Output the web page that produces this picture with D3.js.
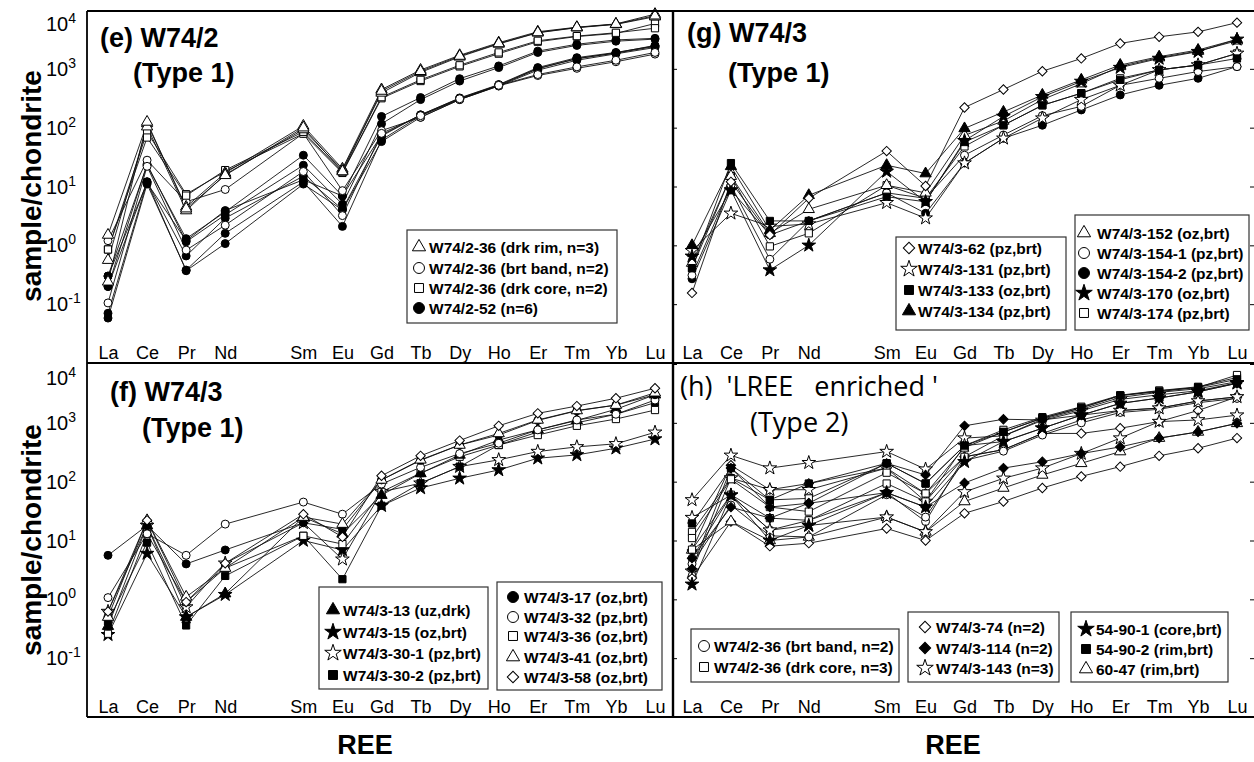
<!DOCTYPE html>
<html lang="en">
<head>
<meta charset="UTF-8">
<title>REE patterns</title>
<script src="https://d3js.org/d3.v7.min.js"></script>
<style>
  body { margin: 0; background: #fff; }
  text { font-family: "Liberation Sans", Arial, sans-serif; fill: #000; }
</style>
</head>
<body>
<svg id="chart" width="1254" height="762"></svg>
<script>
// REE order, Pm kept as an empty slot on the x axis
const elements = ["La","Ce","Pr","Nd","Sm","Eu","Gd","Tb","Dy","Ho","Er","Tm","Yb","Lu"];
const slots = ["La","Ce","Pr","Nd","Pm","Sm","Eu","Gd","Tb","Dy","Ho","Er","Tm","Yb","Lu"];
const decades = [1e4, 1e3, 1e2, 1e1, 1, 0.1];

// (e) W74/2
const eDrkRim = [
  [1.5, 118, 4.5, 17, 107, 20, 445, 955, 1700, 2780, 4270, 5100, 5800, 8500],
  [0.56, 104, 3.9, 16, 93, 19, 390, 870, 1600, 2650, 4100, 5000, 5700, 7700],
  [0.24, 125, 4.2, 15.5, 100, 18, 420, 910, 1650, 2700, 4150, 5050, 5750, 8000]
];
const eDrkCore = [
  [0.85, 85, 7.4, 18, 79, 17, 316, 620, 1100, 1810, 2890, 3540, 4000, 5900],
  [0.85, 68, 7.0, 19, 85, 17.5, 330, 650, 1150, 1900, 3000, 3600, 4100, 4900]
];
const eBrtBand = [
  [1.2, 28, 5.5, 8.9, 80, 8.5, 89, 150, 300, 515, 770, 1020, 1320, 1780],
  [0.105, 22, 0.83, 2.2, 18, 3.2, 80, 160, 310, 525, 800, 1080, 1400, 1900]
];
const e52 = [
  [0.30, 23, 1.3, 3.7, 34, 6.9, 155, 325, 680, 1120, 2000, 2620, 3100, 3300],
  [0.20, 24, 1.15, 3.3, 23, 5.0, 116, 300, 620, 1050, 1900, 2500, 2950, 3200],
  [0.07, 12, 0.66, 2.9, 15, 4.1, 72, 165, 320, 540, 1050, 1550, 1900, 2450],
  [0.058, 11, 0.38, 1.6, 12, 2.1, 62, 160, 305, 520, 1000, 1500, 1850, 2400],
  [0.20, 12, 0.37, 1.07, 11, 4.0, 58, 150, 300, 510, 950, 1400, 1800, 2300],
  [0.30, 11.5, 1.2, 3.9, 13, 6.9, 75, 165, 315, 530, 1020, 1480, 1870, 2500]
];

// (g) W74/3
const g62 = [0.155, 12, 1.5, 6.3, 40, 10.2, 220, 445, 910, 1500, 2700, 3500, 4250, 6100];
const g131 = [0.81, 3.5, 2.1, 2.3, 5.3, 2.9, 25, 66, 145, 300, 525, 960, 1160, 1830];
const g133 = [0.41, 25, 2.6, 2.6, 6.7, 5.5, 57, 110, 240, 385, 650, 960, 1160, 1500];
const g134 = [1.0, 22, 1.8, 7.1, 23, 16.6, 97, 185, 360, 650, 1160, 1610, 2090, 3170];
const g152 = [0.5, 15, 1.6, 4.1, 10.5, 7.8, 74, 130, 300, 560, 1100, 1550, 2000, 3000];
const g154a = [0.31, 10.5, 0.58, 2.6, 7.8, 6.3, 34, 75, 160, 230, 525, 690, 900, 1090];
const g154b = [0.27, 8.7, 1.5, 2.6, 7.8, 3.5, 25, 66, 110, 200, 360, 525, 690, 1090];
const g170 = [0.65, 8.7, 0.38, 1.0, 18, 5.5, 60, 155, 335, 610, 1050, 1500, 1960, 3170];
const g174 = [0.41, 15, 0.96, 1.6, 10.5, 6.3, 48, 110, 240, 385, 690, 960, 1160, 1830];

// (f) W74/3
const f13 = [0.35, 18, 0.5, 1.25, 25, 13, 59, 138, 285, 510, 760, 1100, 1700, 3000];
const f15 = [0.25, 6.0, 0.5, 1.2, 10, 6.9, 39, 78, 114, 158, 250, 285, 370, 530];
const f30a = [0.62, 18, 0.74, 4.1, 20, 4.8, 67, 94, 180, 235, 325, 390, 440, 690];
const f30b = [0.42, 9.2, 0.36, 2.5, 12, 2.2, 39, 94, 180, 420, 700, 1000, 1400, 2200];
const f17 = [5.6, 18, 4.0, 6.9, 20, 15.5, 107, 230, 420, 620, 1100, 1600, 2000, 3000];
const f32 = [1.07, 13, 5.6, 19, 45, 28, 91, 175, 300, 450, 760, 1120, 1400, 2440];
const f36 = [0.26, 13, 0.9, 3.4, 12, 8.7, 67, 140, 265, 420, 620, 890, 1160, 1650];
const f41 = [0.5, 22, 1.1, 3.4, 25, 19, 107, 235, 420, 660, 1120, 1620, 2000, 3240];
const f58 = [0.62, 22, 0.9, 4.1, 28, 11.5, 126, 275, 500, 890, 1450, 1930, 2620, 3870];

// (h) LREE enriched
const hBrtBand = [
  [5, 59, 15, 22, 65, 21, 265, 350, 660, 1120, 1620, 1780, 2350, 2760],
  [4, 40, 12, 11.5, 60, 25, 230, 330, 620, 1000, 1500, 1700, 2200, 2600]
];
const hDrkCore = [
  [14, 115, 49, 52, 205, 93, 410, 760, 1250, 1880, 2950, 3540, 4100, 5900],
  [11, 110, 37, 31, 142, 63, 380, 700, 1200, 1800, 2900, 3500, 4000, 6500],
  [7, 60, 24, 22, 93, 46, 265, 600, 1150, 1700, 2700, 3300, 3800, 5000]
];
const h74 = [
  [2.3, 21, 8, 9, 16, 10, 29, 46, 78, 123, 180, 275, 370, 550],
  [6.9, 190, 73, 93, 170, 63, 265, 350, 660, 660, 810, 1050, 1620, 2760]
];
const h114 = [
  [3.3, 170, 37, 43, 205, 130, 890, 1150, 1120, 1350, 2140, 2640, 3370, 4700],
  [5, 37, 24, 43, 65, 37, 95, 170, 218, 300, 390, 550, 700, 980]
];
const h143 = [
  [49, 280, 170, 210, 325, 163, 550, 600, 1100, 1600, 2500, 3000, 3500, 4800],
  [24.5, 59, 15, 18, 25, 14, 67, 114, 170, 300, 550, 1050, 1120, 1350],
  [3, 115, 73, 73, 170, 46, 410, 480, 810, 1350, 1620, 1780, 2350, 2760]
];
const h5490a = [1.8, 59, 10, 18, 65, 37, 218, 480, 810, 1350, 2140, 2640, 3370, 4700];
const h5490b = [19.5, 170, 49, 93, 205, 93, 410, 700, 1200, 1800, 2900, 3400, 4000, 5500];
const h6047 = [6.9, 21, 10, 11.5, 25, 14, 46, 78, 130, 205, 325, 550, 700, 980];

const svg = d3.select("#chart");
svg.append("rect").attr("width", 1254).attr("height", 762).attr("fill", "#fff");

function symPath(type, size) {
  const t = {circle: d3.symbolCircle, square: d3.symbolSquare, triangle: d3.symbolTriangle,
             star: d3.symbolStar, diamond: d3.symbolSquare}[type];
  return d3.symbol().type(t).size(size)();
}
const plotSize = {circle: 50, square: 52, triangle: 55, star: 58, diamond: 44};
const legSize = {circle: 95, square: 80, triangle: 75, star: 85, diamond: 65};

function marker(sel, type, filled, size, cx, cy) {
  sel.append("path")
    .attr("transform", "translate(" + cx + "," + cy + ")" + (type == "diamond" ? " rotate(45)" : ""))
    .attr("d", symPath(type, size))
    .attr("fill", filled ? "#000" : "#fff")
    .attr("stroke", "#000")
    .attr("stroke-width", 1);
}

function group(list, type, filled) {
  return list.map(v => ({vals: v, type: type, filled: filled}));
}

function drawPanel(p) {
  const x = d3.scalePoint().domain(slots).range(p.xr);
  const y = d3.scaleLog().domain([1e-2, 1e4]).range([p.y1, p.y0]);
  const g = svg.append("g");

  // element labels along the bottom, inside the frame
  const ax = g.append("g").attr("transform", "translate(0," + (p.y1 - 4) + ")")
    .call(d3.axisBottom(x).tickValues(elements).tickSize(0).tickPadding(0));
  ax.select(".domain").remove();
  ax.attr("font-family", null).attr("font-size", null);
  ax.selectAll("text").attr("y", 0).attr("dy", 0).attr("fill", null).style("font-size", "18px");

  // left labels 10^n for the left column
  if (p.left) {
    decades.forEach(d => {
      const e = Math.round(Math.log10(d));
      const t = g.append("text").attr("x", 46)
        .attr("y", y(d) + 7 + (e == 4 ? 14 : 0)).style("font-size", "20px");
      t.append("tspan").text("10");
      t.append("tspan").attr("dy", -8).style("font-size", "14px").text(e);
    });
  } else {
    g.append("g").attr("transform", "translate(" + p.x0 + ",0)")
      .call(d3.axisRight(y).tickValues(decades).tickSize(4).tickFormat(""))
      .call(a => a.select(".domain").remove());
    g.append("g").attr("transform", "translate(" + p.x1 + ",0)")
      .call(d3.axisLeft(y).tickValues(decades).tickSize(4).tickFormat(""))
      .call(a => a.select(".domain").remove());
  }

  const line = d3.line().x((v, i) => x(elements[i])).y(v => y(v));
  p.series.forEach(s => {
    g.append("path").attr("d", line(s.vals)).attr("fill", "none")
      .attr("stroke", "#111").attr("stroke-width", 0.9);
  });
  p.series.forEach(s => {
    s.vals.forEach((v, i) => marker(g, s.type, s.filled, plotSize[s.type], x(elements[i]), y(v)));
  });

  // titles
  p.titles.forEach(t => {
    g.append("text").attr("x", t[1]).attr("y", t[2])
      .style("font-size", "27px")
      .style("font-weight", p.titleFont ? "normal" : "bold")
      .style("font-family", p.titleFont || null)
      .style("white-space", "pre")
      .text(t[0]);
  });

  // legends
  p.legends.forEach(L => {
    g.append("rect").attr("x", L.box[0]).attr("y", L.box[1])
      .attr("width", L.box[2] - L.box[0]).attr("height", L.box[3] - L.box[1])
      .attr("fill", "#fff").attr("stroke", "#333").attr("stroke-width", 1.2);
    L.items.forEach((it, k) => {
      const yy = L.rows[k];
      marker(g, it[0], it[1], legSize[it[0]], L.sx, yy);
      g.append("text").attr("x", L.tx).attr("y", yy + 5.5)
        .style("font-size", "15.5px").style("font-weight", "bold").text(it[2]);
    });
  });
}

const panels = [
  {x0: 87, x1: 673, xr: [108, 655], y0: 10, y1: 363, left: true,
   series: [].concat(group(e52, "circle", true), group(eBrtBand, "circle", false),
                     group(eDrkCore, "square", false), group(eDrkRim, "triangle", false)),
   titles: [["(e) W74/2", 100, 47], ["(Type 1)", 133, 82]],
   legends: [{box: [407, 230, 617, 323], sx: 419, tx: 429, rows: [247, 268, 288, 308],
     items: [["triangle", false, "W74/2-36 (drk rim, n=3)"], ["circle", false, "W74/2-36 (brt band, n=2)"],
             ["square", false, "W74/2-36 (drk core, n=2)"], ["circle", true, "W74/2-52 (n=6)"]]}]},
  {x0: 673, x1: 1254, xr: [692, 1237], y0: 10, y1: 363, left: false,
   series: [].concat(group([g154b], "circle", true), group([g154a], "circle", false),
                     group([g174], "square", false), group([g131], "star", false),
                     group([g152], "triangle", false), group([g133], "square", true),
                     group([g170], "star", true), group([g134], "triangle", true),
                     group([g62], "diamond", false)),
   titles: [["(g) W74/3", 687, 42], ["(Type 1)", 728, 82]],
   legends: [
     {box: [896, 237, 1066, 330], sx: 909, tx: 918, rows: [248, 269, 290, 311],
      items: [["diamond", false, "W74/3-62 (pz,brt)"], ["star", false, "W74/3-131 (pz,brt)"],
              ["square", true, "W74/3-133 (oz,brt)"], ["triangle", true, "W74/3-134 (pz,brt)"]]},
     {box: [1075, 215, 1249, 330], sx: 1084, tx: 1097, rows: [233, 253, 273, 293, 313],
      items: [["triangle", false, "W74/3-152 (oz,brt)"], ["circle", false, "W74/3-154-1 (pz,brt)"],
              ["circle", true, "W74/3-154-2 (pz,brt)"], ["star", true, "W74/3-170 (oz,brt)"],
              ["square", false, "W74/3-174 (pz,brt)"]]}]},
  {x0: 87, x1: 673, xr: [108, 655], y0: 364, y1: 717, left: true,
   series: [].concat(group([f15], "star", true), group([f30a], "star", false),
                     group([f30b], "square", true), group([f36], "square", false),
                     group([f13], "triangle", true), group([f32], "circle", false),
                     group([f17], "circle", true), group([f41], "triangle", false),
                     group([f58], "diamond", false)),
   titles: [["(f) W74/3", 110, 401], ["(Type 1)", 142, 437]],
   legends: [
     {box: [319, 587, 488, 689], sx: 333, tx: 343, rows: [610, 632, 653, 675],
      items: [["triangle", true, "W74/3-13 (uz,drk)"], ["star", true, "W74/3-15 (oz,brt)"],
              ["star", false, "W74/3-30-1 (pz,brt)"], ["square", true, "W74/3-30-2 (pz,brt)"]]},
     {box: [497, 582, 662, 690], sx: 513, tx: 524, rows: [597, 617, 636, 657, 677],
      items: [["circle", true, "W74/3-17 (oz,brt)"], ["circle", false, "W74/3-32 (pz,brt)"],
              ["square", false, "W74/3-36 (oz,brt)"], ["triangle", false, "W74/3-41 (oz,brt)"],
              ["diamond", false, "W74/3-58 (oz,brt)"]]}]},
  {x0: 673, x1: 1254, xr: [692, 1237], y0: 364, y1: 717, left: false,
   series: [].concat(group(h74, "diamond", false), group([h6047], "triangle", false),
                     group(hBrtBand, "circle", false), group(h143, "star", false),
                     group(hDrkCore, "square", false), group(h114, "diamond", true),
                     group([h5490a], "star", true), group([h5490b], "square", true)),
   titleFont: "'Open Sans', 'DejaVu Sans', sans-serif",
   titles: [["(h)  'LREE   enriched '", 680, 396], ["(Type 2)", 750, 432]],
   legends: [
     {box: [691, 629, 899, 682], sx: 704, tx: 714, rows: [646, 667],
      items: [["circle", false, "W74/2-36 (brt band, n=2)"], ["square", false, "W74/2-36 (drk core, n=3)"]]},
     {box: [908, 612, 1059, 682], sx: 925, tx: 936, rows: [627, 648, 668],
      items: [["diamond", false, "W74/3-74 (n=2)"], ["diamond", true, "W74/3-114 (n=2)"],
              ["star", false, "W74/3-143 (n=3)"]]},
     {box: [1071, 612, 1228, 682], sx: 1086, tx: 1096, rows: [629, 649, 669],
      items: [["star", true, "54-90-1 (core,brt)"], ["square", true, "54-90-2 (rim,brt)"],
              ["triangle", false, "60-47 (rim,brt)"]]}]}
];

panels.forEach(drawPanel);

// frame
const frame = svg.append("g").attr("stroke", "#000").attr("fill", "none");
frame.append("path").attr("d", "M87,11H1254M87,363H1254M87,717H1254").attr("stroke-width", 1.8);
frame.append("path").attr("d", "M87,11V717").attr("stroke-width", 1.8);
frame.append("path").attr("d", "M673,11V717").attr("stroke-width", 2.4);

// axis titles
[186, 540].forEach(cy => {
  svg.append("text").attr("transform", "translate(41," + cy + ") rotate(-90)")
    .attr("text-anchor", "middle").style("font-size", "28px").style("font-weight", "bold")
    .text("sample/chondrite");
});
[365, 953].forEach(cx => {
  svg.append("text").attr("x", cx).attr("y", 754).attr("text-anchor", "middle")
    .style("font-size", "27px").style("font-weight", "bold").text("REE");
});
</script>
</body>
</html>
